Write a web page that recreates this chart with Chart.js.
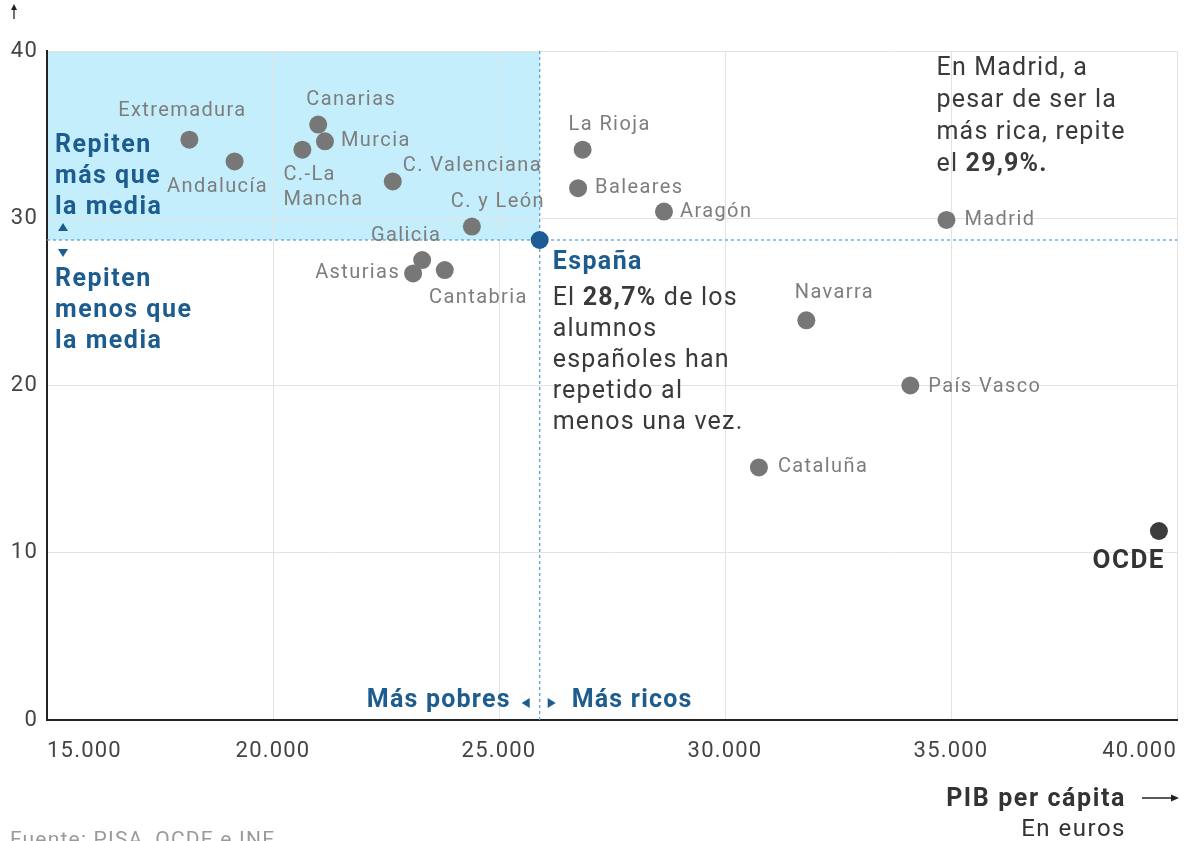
<!DOCTYPE html>
<html><head><meta charset="utf-8">
<script src="https://cdn.jsdelivr.net/npm/chart.js@4.4.0/dist/chart.umd.min.js"></script>
<style>html,body{margin:0;padding:0;background:#fff;overflow:hidden}</style>
</head><body>
<canvas id="c" width="1195" height="841"></canvas>
<script>
// ---- data ----
const regions = ['Extremadura','Andalucía','Canarias','Murcia','C.-La\nMancha','C. Valenciana','C. y León','Galicia','Asturias','Cantabria','La Rioja','Baleares','Aragón','Madrid','Navarra','País Vasco','Cataluña'];
const gdp     = [18150, 19150, 21000, 21150, 20650, 22650, 24400, 23300, 23100, 23800, 26850, 26750, 28650, 34900, 31800, 34100, 30750];
const repeat  = [34.7, 33.4, 35.6, 34.6, 34.1, 32.2, 29.5, 27.5, 26.7, 26.9, 34.1, 31.8, 30.4, 29.9, 23.9, 20.0, 15.1];
const spainGdp = [25900];
const spainRepeat = [28.7];
const ocdeGdp = [39600];
const ocdeRepeat = [11.3];
const xTicks = [15000, 20000, 25000, 30000, 35000, 40000];
const yTicks = [0, 10, 20, 30, 40];

// ---- label placement (style) ----
const labelPlacement = [
 {dx:-7, dy:-29, align:'center'},
 {dx:-17, dy:26, align:'center'},
 {dx:33, dy:-25, align:'center'},
 {dx:16, dy:0, align:'left'},
 {dx:-19, dy:25, align:'left'},
 {dx:10, dy:-15, align:'left'},
 {dx:26, dy:-25, align:'center'},
 {dx:-16, dy:-24, align:'center'},
 {dx:-13, dy:0, align:'right'},
 {dx:83, dy:28, align:'right'},
 {dx:27, dy:-25, align:'center'},
 {dx:17, dy:0, align:'left'},
 {dx:16, dy:0, align:'left'},
 {dx:18, dy:0, align:'left'},
 {dx:28, dy:-27, align:'center'},
 {dx:18, dy:1, align:'left'},
 {dx:19, dy:0, align:'left'}
];

const BLUE = '#1c5c8e', DARK = '#3a3a3a', GREY = '#7d7d7d';
const FF = 'Roboto, "Liberation Sans", sans-serif';
const fmt = v => String(v).replace(/\B(?=(\d{3})+(?!\d))/g, '.');

function setFont(ctx, size, bold, spacing){
  ctx.font = (bold ? 'bold ' : '') + size + 'px ' + FF;
  ctx.letterSpacing = (spacing || 0) + 'px';
}
function runs(ctx, x, y, parts, size, color, spacing){
  let cx = x;
  ctx.textAlign = 'left';
  ctx.fillStyle = color;
  for (const [t, b] of parts){
    setFont(ctx, size, b, spacing);
    ctx.fillText(t, cx, y);
    cx += ctx.measureText(t).width;
  }
}
function tri(ctx, cx, cy, dir, s, color){
  ctx.fillStyle = color; ctx.beginPath();
  if (dir === 'up'){ ctx.moveTo(cx - s, cy + s*0.8); ctx.lineTo(cx + s, cy + s*0.8); ctx.lineTo(cx, cy - s*0.8); }
  else if (dir === 'down'){ ctx.moveTo(cx - s, cy - s*0.8); ctx.lineTo(cx + s, cy - s*0.8); ctx.lineTo(cx, cy + s*0.8); }
  else if (dir === 'left'){ ctx.moveTo(cx + s*0.8, cy - s); ctx.lineTo(cx + s*0.8, cy + s); ctx.lineTo(cx - s*0.8, cy); }
  else { ctx.moveTo(cx - s*0.8, cy - s); ctx.lineTo(cx - s*0.8, cy + s); ctx.lineTo(cx + s*0.8, cy); }
  ctx.closePath(); ctx.fill();
}

const deco = {
  id: 'deco',
  beforeDraw(chart){
    const {ctx, chartArea: a, scales: {x, y}} = chart;
    const ex = x.getPixelForValue(spainGdp[0]), ey = y.getPixelForValue(spainRepeat[0]);
    ctx.save();
    ctx.fillStyle = '#c4eefb';
    ctx.fillRect(a.left, a.top, ex - a.left, ey - a.top);
    ctx.restore();
    ctx.letterSpacing = '1.2px'; // tick label tracking
  },
  beforeDatasetsDraw(chart){
    const {ctx, chartArea: a, scales: {x, y}} = chart;
    const ex = x.getPixelForValue(spainGdp[0]), ey = y.getPixelForValue(spainRepeat[0]);
    ctx.save();
    ctx.strokeStyle = '#5aa5d0'; ctx.lineWidth = 1.3; ctx.setLineDash([3, 3]);
    ctx.beginPath(); ctx.moveTo(ex, a.top); ctx.lineTo(ex, a.bottom); ctx.stroke();
    ctx.beginPath(); ctx.moveTo(a.left, ey); ctx.lineTo(a.right, ey); ctx.stroke();
    ctx.restore();
  },
  afterDatasetsDraw(chart){
    const {ctx, chartArea: a, scales: {x, y}} = chart;
    const ex = x.getPixelForValue(spainGdp[0]), ey = y.getPixelForValue(spainRepeat[0]);
    ctx.save();
    ctx.textBaseline = 'middle';
    // point labels
    regions.forEach((name, i) => {
      const px = x.getPixelForValue(gdp[i]), py = y.getPixelForValue(repeat[i]);
      const p = labelPlacement[i];
      setFont(ctx, 20, false, 1.4);
      ctx.fillStyle = GREY; ctx.textAlign = p.align;
      name.split('\n').forEach((ln, k) => ctx.fillText(ln, px + p.dx, py + p.dy + k*25));
    });
    // España
    setFont(ctx, 25, true, 1.4); ctx.fillStyle = BLUE; ctx.textAlign = 'left';
    ctx.fillText('España', ex + 13, ey + 23);
    const spainLines = [
      [['El ', false], ['28,7%', true], [' de los', false]],
      [['alumnos', false]],
      [['españoles han', false]],
      [['repetido al', false]],
      [['menos una vez.', false]]
    ];
    spainLines.forEach((parts, k) => runs(ctx, ex + 13, ey + 59 + k*31, parts, 25, DARK, 1.2));
    // Madrid note
    const mi = regions.indexOf('Madrid');
    const mx = x.getPixelForValue(gdp[mi]), my = y.getPixelForValue(repeat[mi]);
    const madLines = [
      [['En Madrid, a', false]],
      [['pesar de ser la', false]],
      [['más rica, repite', false]],
      [['el ', false], ['29,9%.', true]]
    ];
    madLines.forEach((parts, k) => runs(ctx, mx - 10, my - 151 + k*32, parts, 25, DARK, 1.2));
    // OCDE
    const ox = x.getPixelForValue(ocdeGdp[0]), oy = y.getPixelForValue(ocdeRepeat[0]);
    setFont(ctx, 26, true, 1.5); ctx.fillStyle = '#333'; ctx.textAlign = 'right';
    ctx.fillText('OCDE', ox + 6, oy + 30);
    // Repiten más / menos
    const L = a.left + 8;
    setFont(ctx, 25, true, 1.5); ctx.fillStyle = BLUE; ctx.textAlign = 'left';
    ['Repiten', 'más que', 'la media'].forEach((t, k) => ctx.fillText(t, L, ey - 94 + k*31));
    ['Repiten', 'menos que', 'la media'].forEach((t, k) => ctx.fillText(t, L, ey + 40 + k*31));
    tri(ctx, a.left + 16, ey - 13, 'up', 5, BLUE);
    tri(ctx, a.left + 16, ey + 13, 'down', 5, BLUE);
    // Más pobres / Más ricos
    const by = a.bottom - 19;
    setFont(ctx, 25, true, 1.2); ctx.fillStyle = BLUE;
    ctx.textAlign = 'right'; ctx.fillText('Más pobres', ex - 29, by);
    ctx.textAlign = 'left'; ctx.fillText('Más ricos', ex + 32, by);
    tri(ctx, ex - 14, by + 2, 'left', 5, BLUE);
    tri(ctx, ex + 12, by + 2, 'right', 5, BLUE);
    // axis titles
    setFont(ctx, 25, true, 1.6); ctx.fillStyle = '#333'; ctx.textAlign = 'right';
    ctx.fillText('PIB per cápita', a.right - 51, a.bottom + 80);
    setFont(ctx, 24, false, 1.5); ctx.fillStyle = '#333';
    ctx.fillText('En euros', a.right - 51, a.bottom + 110);
    ctx.strokeStyle = '#222'; ctx.lineWidth = 1.3; ctx.setLineDash([]);
    ctx.beginPath(); ctx.moveTo(a.right - 35, a.bottom + 78); ctx.lineTo(a.right - 2, a.bottom + 78); ctx.stroke();
    ctx.fillStyle = '#222'; ctx.beginPath();
    ctx.moveTo(a.right + 2, a.bottom + 78); ctx.lineTo(a.right - 6, a.bottom + 74.5); ctx.lineTo(a.right - 6, a.bottom + 81.5); ctx.closePath(); ctx.fill();
    // top arrow
    ctx.beginPath(); ctx.moveTo(14, 19); ctx.lineTo(14, 8); ctx.stroke();
    ctx.beginPath(); ctx.moveTo(14, 4); ctx.lineTo(11, 10); ctx.lineTo(17, 10); ctx.closePath(); ctx.fill();
    // source
    setFont(ctx, 21, false, 1.2); ctx.fillStyle = '#9a9a9a'; ctx.textAlign = 'left'; ctx.textBaseline = 'alphabetic';
    ctx.fillText('Fuente: PISA, OCDE e INE', 10, 846);
    ctx.restore();
  }
};

Chart.defaults.font.family = FF;
new Chart(document.getElementById('c'), {
  type: 'scatter',
  data: {
    datasets: [
      {data: gdp.map((g, i) => ({x: g, y: repeat[i]})), backgroundColor: '#777777', pointRadius: 9, pointHoverRadius: 9, borderWidth: 0},
      {data: spainGdp.map((g, i) => ({x: g, y: spainRepeat[i]})), backgroundColor: '#1d5b94', pointRadius: 9, pointHoverRadius: 9, borderWidth: 0},
      {data: ocdeGdp.map((g, i) => ({x: g, y: ocdeRepeat[i]})), backgroundColor: '#3c3c3c', pointRadius: 9, pointHoverRadius: 9, borderWidth: 0}
    ]
  },
  options: {
    responsive: false, animation: false, events: [], clip: false,
    layout: {padding: {top: 51, right: 18, left: 0, bottom: 0}},
    plugins: {legend: {display: false}, tooltip: {enabled: false}},
    scales: {
      x: {
        type: 'linear', min: xTicks[0], max: xTicks[xTicks.length - 1],
        afterBuildTicks: s => { s.ticks = xTicks.map(v => ({value: v})); },
        afterFit: s => { s.height = 121; },
        ticks: {callback: v => fmt(v), font: {size: 22}, color: '#444', padding: 18, align: 'inner', maxRotation: 0, autoSkip: false},
        grid: {color: '#e3e3e3', drawTicks: false},
        border: {color: '#222', width: 2}
      },
      y: {
        type: 'linear', min: yTicks[0], max: yTicks[yTicks.length - 1],
        afterBuildTicks: s => { s.ticks = yTicks.map(v => ({value: v})); },
        afterFit: s => { s.width = 47; },
        ticks: {font: {size: 22}, color: '#444', padding: 9},
        grid: {color: '#e3e3e3', drawTicks: false},
        border: {color: '#222', width: 2}
      }
    }
  },
  plugins: [deco]
});
</script>
</body></html>
